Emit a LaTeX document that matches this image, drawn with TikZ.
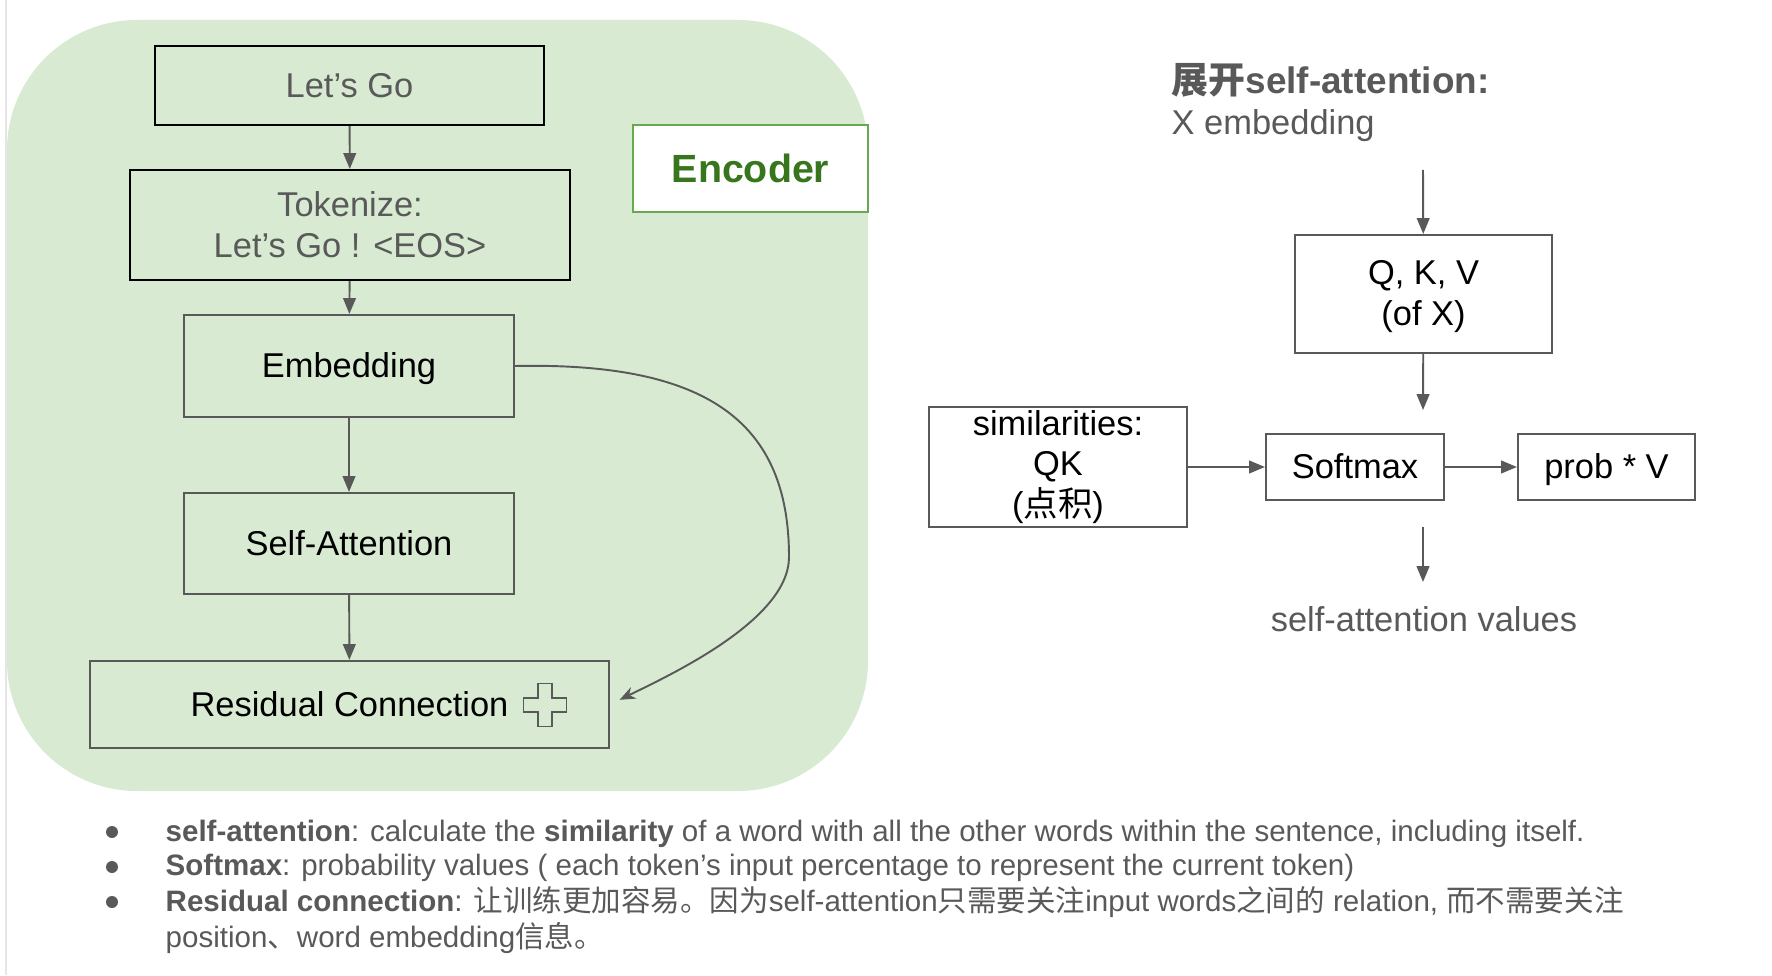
\documentclass[tikz,border=0pt]{standalone}
\usepackage{fontspec}
\setmainfont{Liberation Sans}
\newfontfamily\cjk{Noto Sans CJK SC}
\definecolor{sagray}{RGB}{89,89,89}
\definecolor{sagreen}{RGB}{217,234,211}
\definecolor{saborder}{RGB}{106,168,79}
\definecolor{sadkgreen}{RGB}{56,118,29}
\usetikzlibrary{arrows.meta}

\begin{document}
\begin{tikzpicture}[
  box/.style={draw=sagray,line width=0.6pt,inner sep=0pt,align=center,font=\fontsize{9.8}{11.6}\selectfont},
  oneline/.style={text height=8.9pt,text depth=2.1pt},
  flow/.style={sagray,line width=0.55pt,-{Triangle[length=4.5pt,width=3.6pt]}},
  note/.style={sagray,anchor=base west,inner sep=0pt,font=\fontsize{8.4}{10}\selectfont},
  dot/.style={circle,fill=sagray,inner sep=0pt,minimum size=0.12cm}]
  \useasboundingbox (0,0) rectangle (17.72,9.75);
  % encoder panel
  \draw[black!10] (0.06,0) -- (0.06,9.75);
  \fill[sagreen,rounded corners=1.3cm] (0.07,1.84) rectangle (8.68,9.55);
  \node[box,oneline,draw=black,text=sagray,minimum width=3.89cm,minimum height=0.79cm] (go) at (3.495,8.895) {Let’s Go};
  \node[box,draw=black,text=sagray,minimum width=4.40cm,minimum height=1.10cm] (tok) at (3.50,7.50) {Tokenize:\\Let’s Go ! <EOS>};
  \node[box,oneline,minimum width=3.30cm,minimum height=1.02cm] (emb) at (3.49,6.09) {Embedding};
  \node[box,oneline,minimum width=3.30cm,minimum height=1.01cm] (att) at (3.49,4.315) {Self-Attention};
  \node[box,oneline,minimum width=5.19cm,minimum height=0.87cm] (res) at (3.495,2.705) {Residual Connection};
  \draw[sagray,line width=0.5pt,shift={(5.45,2.70)}] (-0.07,0.215) -- (0.07,0.215) -- (0.07,0.07) -- (0.215,0.07) -- (0.215,-0.07) -- (0.07,-0.07) -- (0.07,-0.215) -- (-0.07,-0.215) -- (-0.07,-0.07) -- (-0.215,-0.07) -- (-0.215,0.07) -- (-0.07,0.07) -- cycle;
  \node[box,draw=saborder,fill=white,text=sadkgreen,font=\bfseries\fontsize{11.2}{13}\selectfont,text height=10.1pt,text depth=2.4pt,minimum width=2.35cm,minimum height=0.87cm] (enc) at (7.505,8.065) {Encoder};
  \draw[flow] (go) -- (tok);
  \draw[flow] (tok) -- (emb);
  \draw[flow] (emb) -- (att);
  \draw[flow] (att) -- (res);
  \draw[sagray,line width=0.55pt,-{Stealth[length=4.5pt,width=3.6pt]},shorten >=3pt] (emb.east) .. controls (7.05,6.13) and (7.89,5.55) .. (7.89,4.18) .. controls (7.89,3.55) and (6.7,3.0) .. (res.east);

  % self-attention unfolded
  \node[anchor=west,inner sep=0pt,text=sagray,font=\bfseries\fontsize{10.5}{12}\selectfont] (ttl) at (11.71,8.95) {{\cjk 展开}self-attention:};
  \node[anchor=west,inner sep=0pt,text=sagray,font=\fontsize{9.8}{11.6}\selectfont] (xemb) at (11.71,8.49) {X embedding};
  \coordinate (xin) at (14.23,8.05);
  \node[box,minimum width=2.57cm,minimum height=1.18cm] (qkv) at (14.235,6.81) {\strut Q, K, V\\(of X)};
  \coordinate (smin) at (14.23,5.65);
  \node[box,minimum width=2.58cm,minimum height=1.20cm] (sim) at (10.58,5.08) {similarities:\\QK\\({\cjk 点积})};
  \node[box,oneline,minimum width=1.78cm,minimum height=0.66cm] (soft) at (13.55,5.08) {Softmax};
  \node[box,oneline,minimum width=1.77cm,minimum height=0.66cm] (prob) at (16.065,5.08) {prob * V};
  \coordinate (vtop) at (14.23,4.48);
  \coordinate (vbot) at (14.23,3.93);
  \node[inner sep=0pt,text=sagray,font=\fontsize{9.8}{11.6}\selectfont] (vals) at (14.24,3.56) {self-attention values};
  \draw[flow] (xin) -- (qkv);
  \draw[flow] (qkv) -- (smin);
  \draw[flow] (sim) -- (soft);
  \draw[flow] (soft) -- (prob);
  \draw[flow] (vtop) -- (vbot);

  % notes
  \node[dot] (d1) at (1.12,1.43) {};
  \node[dot] (d2) at (1.12,1.08) {};
  \node[dot] (d3) at (1.12,0.73) {};
  \node[note] (n1) at (1.65,1.34) {\textbf{self-attention}: calculate the \textbf{similarity} of a word with all the other words within the sentence, including itself.};
  \node[note] (n2) at (1.65,1.00) {\textbf{Softmax}: probability values ( each token’s input percentage to represent the current token)};
  \node[note] (n3) at (1.65,0.64) {\textbf{Residual connection}: {\cjk 让训练更加容易。因为}self-attention{\cjk 只需要关注}input words{\cjk 之间的} relation, {\cjk 而不需要关注}};
  \node[note] (n4) at (1.65,0.28) {position{\cjk 、}word embedding{\cjk 信息。}};
\end{tikzpicture}
\end{document}
